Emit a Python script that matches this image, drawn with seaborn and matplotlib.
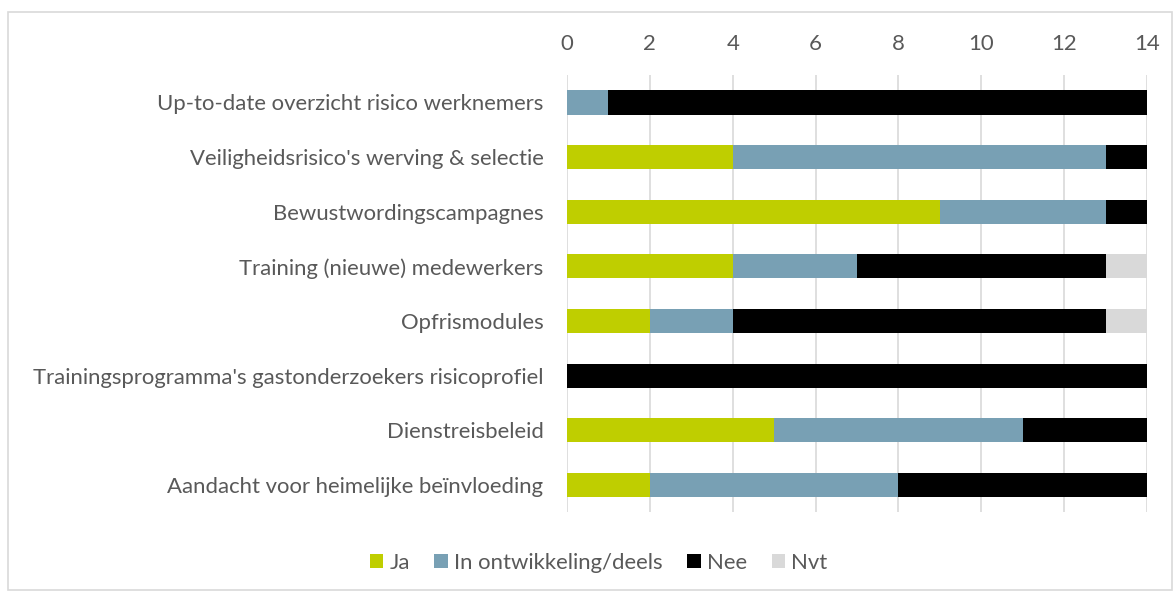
import matplotlib
matplotlib.use("Agg")
import matplotlib.pyplot as plt
import seaborn as sns
import numpy as np
import pandas as pd
from matplotlib.patches import Rectangle, Patch

categories = [
    "Up-to-date overzicht risico werknemers",
    "Veiligheidsrisico's werving & selectie",
    "Bewustwordingscampagnes",
    "Training (nieuwe) medewerkers",
    "Opfrismodules",
    "Trainingsprogramma's gastonderzoekers risicoprofiel",
    "Dienstreisbeleid",
    "Aandacht voor heimelijke beïnvloeding",
]
ja = [0, 4, 9, 4, 2, 0, 5, 2]
ontwikkeling = [1, 9, 4, 3, 2, 0, 6, 6]
nee = [13, 1, 1, 6, 9, 14, 3, 6]
nvt = [0, 0, 0, 1, 1, 0, 0, 0]
series_names = ["Ja", "In ontwikkeling/deels", "Nee", "Nvt"]
colors = ["#BFCE00", "#78A0B4", "#000000", "#D9D9D9"]
xticks = [0, 2, 4, 6, 8, 10, 12, 14]

sns.set_theme(style="white")
plt.rcParams["font.family"] = ["Lato", "DejaVu Sans"]
text_color = "#595959"
fs = 15.9

fig = plt.figure(figsize=(11.74, 5.92), dpi=100)
ax = fig.add_axes([0.483, 0.135, 0.494, 0.738])

vals = np.array([ja, ontwikkeling, nee, nvt], dtype=float)
cum = np.cumsum(vals, axis=0)
for i in range(3, -1, -1):
    df = pd.DataFrame({"cat": categories, "val": cum[i]})
    sns.barplot(data=df, x="val", y="cat", order=categories, color=colors[i],
                orient="h", width=0.44, ax=ax, saturation=1, zorder=3,
                linewidth=0)

ax.set_xlim(0, 14)
ax.set_xticks(xticks)
ax.set_xticklabels([str(t) for t in xticks])
ax.xaxis.tick_top()
ax.set_xlabel("")
ax.set_ylabel("")
ax.set_ylim(len(categories) - 0.5, -0.5)
ax.grid(axis="x", color="#D9D9D9", linewidth=1.2, zorder=0)
ax.grid(axis="y", visible=False)
for s in ax.spines.values():
    s.set_visible(False)
ax.tick_params(axis="x", length=0, pad=15, labelsize=fs, colors=text_color)
ax.tick_params(axis="y", length=0, pad=17, labelsize=fs, colors=text_color)

handles = [Patch(facecolor=c, edgecolor="none") for c in colors]
fig.legend(handles, series_names, loc="center", bbox_to_anchor=(0.51, 0.049),
           ncol=4, frameon=False, fontsize=fs, labelcolor=text_color,
           handlelength=0.6, handleheight=0.6, handletextpad=0.3,
           columnspacing=1.1)

fig.patches.append(Rectangle((8 / 1174, 2 / 592), 1 - 10 / 1174, 1 - 14 / 592,
                             transform=fig.transFigure, fill=False,
                             edgecolor="#D9D9D9", linewidth=1.2))

fig.savefig("out.png", dpi=100, facecolor="white")
